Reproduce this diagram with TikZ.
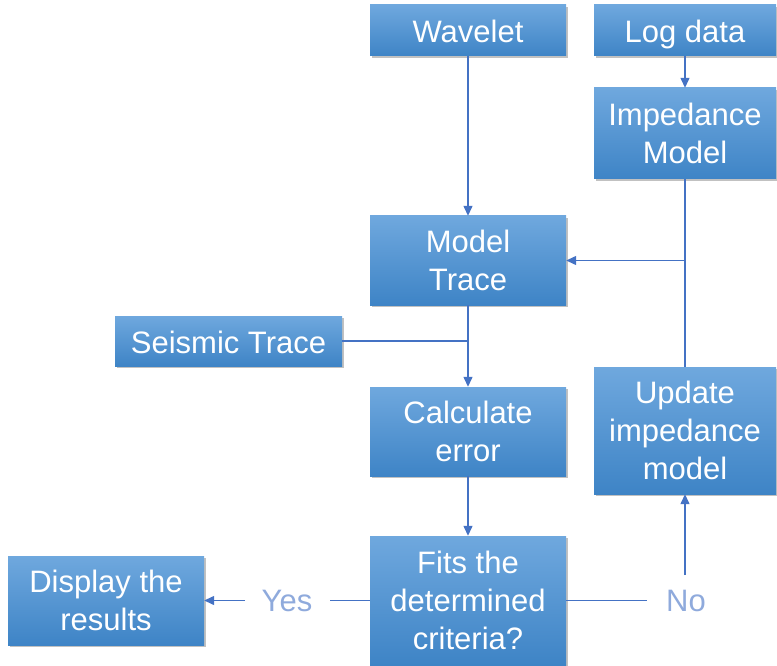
\documentclass[tikz,border=0pt]{standalone}
\usepackage{fontspec}
\setmainfont{Liberation Sans}
\usetikzlibrary{arrows.meta,shadows}
\definecolor{boxtop}{HTML}{6FA8DE}
\definecolor{boxbot}{HTML}{3E84C6}
\definecolor{linec}{HTML}{4472C4}
\definecolor{lbl}{HTML}{8FAADC}
\tikzset{
  box/.style={rectangle, top color=boxtop, bottom color=boxbot, draw=none,
    text=white, align=center, inner sep=0pt,
    font=\fontsize{31}{38}\selectfont,
    drop shadow={opacity=0.35, shadow xshift=1.5pt, shadow yshift=-2pt, fill=black!70}},
  oneline/.style={text height=25pt, text depth=1pt},
  conn/.style={draw=linec, line width=1.3pt},
  arr/.style={conn, -{Triangle[length=10pt,width=9pt]}},
  lab/.style={text=lbl, font=\fontsize{31}{34}\selectfont, inner sep=0pt}
}
\begin{document}
\begin{tikzpicture}[x=1pt,y=-1pt]
\useasboundingbox (0,0) rectangle (777,666);
\node[box, oneline, minimum width=196pt, minimum height=51pt] (wav) at (468,30.5) {Wavelet};
\node[box, oneline, minimum width=182pt, minimum height=51pt] (log) at (685,30.5) {Log data};
\node[box, minimum width=182pt, minimum height=91pt] (imp) at (685,133.5) {Impedance\\Model};
\node[box, minimum width=196pt, minimum height=89pt] (mod) at (468,260.5) {Model\\Trace};
\node[box, oneline, minimum width=227pt, minimum height=50pt] (seis) at (228.5,341) {Seismic Trace};
\node[box, minimum width=196pt, minimum height=89pt] (calc) at (468,431.5) {Calculate\\error};
\node[box, minimum width=182pt, minimum height=127pt] (upd) at (685,430.5) {Update\\impedance\\model};
\node[box, minimum width=196pt, minimum height=129pt] (fit) at (468,600.5) {Fits the\\determined\\criteria?};
\node[box, minimum width=196pt, minimum height=89pt] (disp) at (106,600.5) {Display the\\results};
\node[lab] (yes) at (287,600.5) {Yes};
\node[lab] (no) at (686,600.5) {No};
\coordinate (jn) at (685,260.5);
\coordinate (js) at (468,341);
\coordinate (ye) at (330,600.5);
\coordinate (ys) at (245,600.5);
\coordinate (ne) at (647,600.5);
\coordinate (ns) at (685,575);
\draw[arr] (wav) -- (mod);
\draw[arr] (log) -- (imp);
\draw[conn] (imp) -- (upd);
\draw[arr] (jn) -- (mod.east);
\draw[arr] (mod) -- (calc);
\draw[conn] (seis.east) -- (js);
\draw[arr] (calc) -- (fit);
\draw[conn] (fit.west) -- (ye);
\draw[arr] (ys) -- (disp.east);
\draw[conn] (fit.east) -- (ne);
\draw[arr] (ns) -- (upd.south);
\end{tikzpicture}
\end{document}
